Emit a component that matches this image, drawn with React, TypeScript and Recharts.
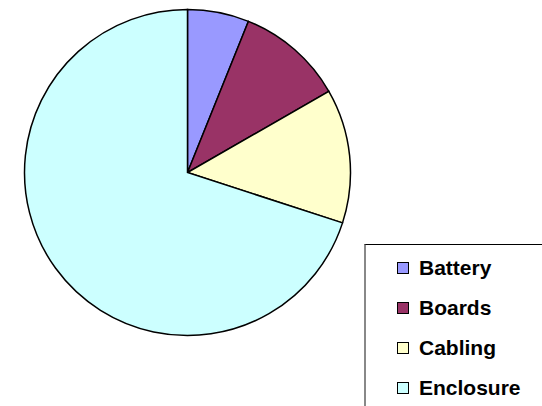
import React from "react";
import { PieChart, Pie, Cell, Legend } from "recharts";

const categories = ["Battery", "Boards", "Cabling", "Enclosure"];
const shares = [6.1, 10.6, 13.3, 70.0];
const colors = ["#9999FF", "#993366", "#FFFFCC", "#CCFFFF"];

const data = categories.map((name, i) => ({ name, value: shares[i] }));

const LegendBox = () => (
  <div
    style={{
      width: 180,
      height: 170,
      borderTop: "1.5px solid #000",
      borderLeft: "2px solid #888",
      boxSizing: "border-box",
      fontFamily: "'Liberation Sans', Arial, sans-serif",
      fontWeight: "bold",
      fontSize: 21,
      color: "#000",
    }}
  >
    {categories.map((name, i) => (
      <div
        key={name}
        style={{
          position: "absolute",
          left: 33,
          top: 12 + i * 40,
          height: 24,
          display: "flex",
          alignItems: "center",
        }}
      >
        <span
          style={{
            display: "inline-block",
            width: 10,
            height: 10,
            background: colors[i],
            border: "1px solid #000",
            marginRight: 10,
          }}
        />
        <span>{name}</span>
      </div>
    ))}
  </div>
);

export default function App() {
  return (
    <div style={{ position: "absolute", left: 0, top: 0, width: 542, height: 406, background: "#fff" }}>
      <PieChart width={542} height={406} margin={{ top: 0, right: 0, bottom: 0, left: 0 }}>
        <Pie
          data={data}
          dataKey="value"
          nameKey="name"
          cx={187.5}
          cy={172.5}
          outerRadius={163}
          startAngle={90}
          endAngle={-270}
          stroke="#000"
          strokeWidth={1.5}
          isAnimationActive={false}
        >
          {data.map((d, i) => (
            <Cell key={d.name} fill={colors[i]} />
          ))}
        </Pie>
        <Legend
          content={<LegendBox />}
          wrapperStyle={{ position: "absolute", left: 364, top: 244, width: 180, height: 170 }}
        />
      </PieChart>
    </div>
  );
}
